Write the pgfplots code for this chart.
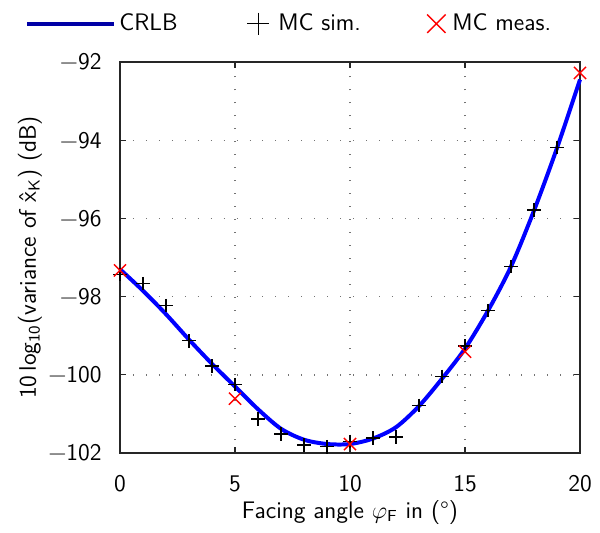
\documentclass[border=0pt]{standalone}
\usepackage{fontspec}
\renewcommand{\familydefault}{\sfdefault}
\usepackage{pgfplots}
\pgfplotsset{compat=1.18}
\pgfplotsset{
  longline/.style={legend image code/.code={\draw[##1, color=blue!65!black] (0bp,0bp) -- (43.5bp,0bp); \path[draw=none,fill=none] (0bp,-1bp) rectangle (46bp,1bp);}},
  plusimg/.style={legend image code/.code={\draw[##1, mark size=5.5bp] plot coordinates {(0bp,0bp)}; \path[draw=none,fill=none] (-6bp,-1bp) rectangle (10bp,1bp);}},
  crossimg/.style={legend image code/.code={\draw[##1, mark size=6.5bp] plot coordinates {(0bp,0bp)}; \path[draw=none,fill=none] (-5bp,-1bp) rectangle (8bp,1bp);}},
}
\begin{document}
\fontsize{12}{14}\selectfont
\begin{tikzpicture}
\begin{axis}[
  scale only axis, width=230bp, height=195.5bp,
  xmin=0, xmax=20, ymin=-102, ymax=-92,
  xtick={0,5,10,15,20}, xticklabels={0,5,10,15,20},
  ytick={-102,-100,-98,-96,-94,-92},
  yticklabels={−102,−100,−98,−96,−94,−92},
  tick align=inside, major tick length=3bp,
  every tick/.style={black!85, line width=0.6pt},
  axis line style={black!85, line width=0.7pt},
  grid=major,
  grid style={black!55, line width=0.7pt, dash pattern=on 0.5pt off 6pt},
  xticklabel style={yshift=-7bp},
  yticklabel style={xshift=-5bp},
  xlabel={Facing angle $\varphi_{\mathsf{F}}$ in (°)},
  ylabel={10\,log\textsubscript{10}(variance of \^{x}\textsubscript{K}) (dB)},
  xlabel style={yshift=4bp},
  ylabel style={yshift=-5bp},
  clip=false,
  legend columns=3,
  legend style={draw=none, fill=none, inner sep=0pt, at={(-0.2065,1.098)}, anchor=west,
    nodes={inner sep=0pt},
    /tikz/every even column/.append style={column sep=29bp}},
]
\addplot[blue, line width=2pt, smooth, longline]
  coordinates {
  (0,-97.30) (1,-97.85) (2,-98.45) (3,-99.10) (4,-99.72) (5,-100.30)
  (6,-100.88) (7,-101.38) (8,-101.66) (9,-101.77) (10,-101.77)
  (11,-101.63) (12,-101.34) (13,-100.80) (14,-100.10) (15,-99.33)
  (16,-98.36) (17,-97.23) (18,-95.80) (19,-94.20) (20,-92.45)
  };
\addlegendentry{\makebox[34.5bp][l]{CRLB}}
\addplot[only marks, mark=+, mark size=3.4pt, black, mark options={line width=0.7pt}, plusimg]
  coordinates {
  (0,-97.43) (1,-97.67) (2,-98.23) (3,-99.13) (4,-99.77) (5,-100.25)
  (6,-101.13) (7,-101.51) (8,-101.80) (9,-101.84) (10,-101.70)
  (11,-101.62) (12,-101.59) (13,-100.78) (14,-100.04) (15,-99.26)
  (16,-98.36) (17,-97.23) (18,-95.78) (19,-94.19)
  };
\addlegendentry{\makebox[45bp][l]{MC sim.}}
\addplot[only marks, mark=x, mark size=4.3pt, red, mark options={line width=0.7pt}, crossimg]
  coordinates {
  (0,-97.33) (5,-100.61) (10,-101.77) (15,-99.41) (20,-92.28)
  };
\addlegendentry{\makebox[49bp][l]{MC meas.}}
\end{axis}
\path (current axis.south west) ++(-60bp,-37.5bp) coordinate (bl);
\path (current axis.north east) ++(10bp,31bp) coordinate (tr);
\path (bl) rectangle (tr);
\end{tikzpicture}
\end{document}
